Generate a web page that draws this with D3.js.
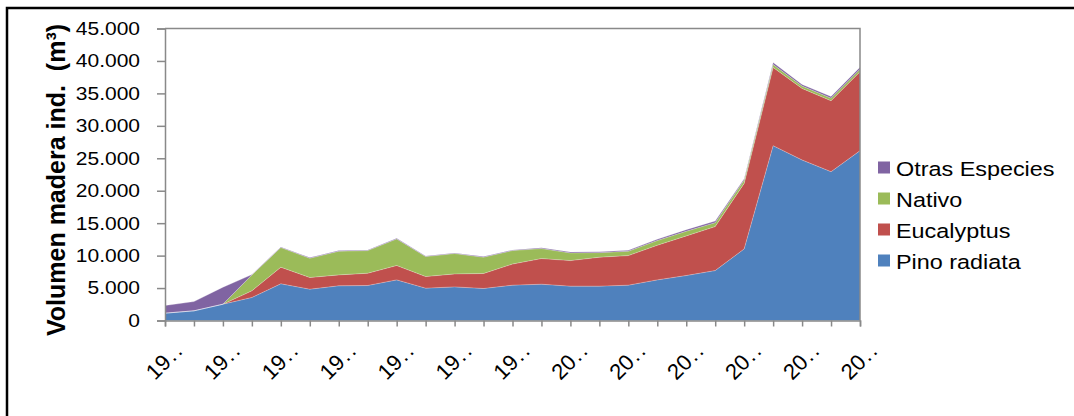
<!DOCTYPE html>
<html>
<head>
<meta charset="utf-8">
<script src="https://cdn.jsdelivr.net/npm/d3@7/dist/d3.min.js"></script>
<style>
  html, body { margin: 0; padding: 0; background: #fff; }
  svg { display: block; }
  text { font-family: "Liberation Sans", Arial, sans-serif; fill: #000; }
</style>
</head>
<body>
<svg id="chart" width="1074" height="416"></svg>
<script>
// Annual industrial wood volume by species group (m³)
const years = d3.range(1986, 2011).map(String);
const pinoRadiata = [1130, 1490, 2510, 3540, 5650, 4820, 5340, 5390, 6260, 4980, 5180, 4930, 5440, 5590, 5290, 5290, 5440, 6260, 6930, 7690, 11030, 26930, 24730, 22930, 26160];
const eucalyptus  = [0, 0, 0, 1030, 2560, 1800, 1690, 1890, 2210, 1790, 2000, 2310, 3260, 3950, 3940, 4460, 4560, 5330, 6100, 6780, 10100, 12060, 11030, 10930, 12160];
const nativo      = [0, 0, 0, 2460, 3030, 2970, 3640, 3490, 4100, 3080, 3130, 2510, 2080, 1540, 1180, 710, 670, 720, 720, 610, 520, 460, 360, 410, 410];
const otras       = [1180, 1430, 2620, 40, 100, 100, 100, 100, 100, 100, 100, 100, 100, 150, 150, 150, 150, 200, 250, 260, 200, 310, 260, 260, 310];

const seriesNames = ["Pino radiata", "Eucalyptus", "Nativo", "Otras Especies"];
const seriesColors = ["#4F81BD", "#C0504D", "#9BBB59", "#8064A2"];
const yTicks = [0, 5000, 10000, 15000, 20000, 25000, 30000, 35000, 40000, 45000];
const yTitle = "Volumen madera ind.  (m³)";

const rows = years.map((yr, i) => ({
  year: yr,
  "Pino radiata": pinoRadiata[i],
  "Eucalyptus": eucalyptus[i],
  "Nativo": nativo[i],
  "Otras Especies": otras[i]
}));

const svg = d3.select("#chart");
const SX = 1.2; // horizontal text stretch

// outer frame
svg.append("rect")
  .attr("x", 7).attr("y", 8).attr("width", 1100).attr("height", 440)
  .attr("fill", "none").attr("stroke", "#000").attr("stroke-width", 2.5);

const plotLeft = 165, plotRight = 860, plotTop = 28.5, plotBottom = 320.5;
const x = d3.scalePoint().domain(years).range([plotLeft, plotRight]);
const y = d3.scaleLinear().domain([0, 45000]).range([plotBottom, plotTop]);

const stack = d3.stack().keys(seriesNames);
const layers = stack(rows);

const area = d3.area()
  .x(d => x(d.data.year))
  .y0(d => y(d[0]))
  .y1(d => y(d[1]));

const color = d3.scaleOrdinal().domain(seriesNames).range(seriesColors);

svg.append("g").selectAll("path")
  .data(layers)
  .join("path")
  .attr("d", area)
  .attr("fill", d => color(d.key));

// light seams along each layer's upper edge
const edge = d3.line().x(d => x(d.data.year)).y(d => y(d[1]));
svg.append("g").selectAll("path")
  .data(layers)
  .join("path")
  .attr("d", edge)
  .attr("fill", "none")
  .attr("stroke", "#fff")
  .attr("stroke-opacity", 0.35)
  .attr("stroke-width", 0.8);

// plot area border (top and right)
svg.append("path")
  .attr("d", `M${plotLeft},${plotTop}H${plotRight}V${plotBottom}`)
  .attr("fill", "none").attr("stroke", "#898989").attr("stroke-width", 1.5);

const fmt = d3.formatLocale({ decimal: ",", thousands: ".", grouping: [3], currency: ["", ""] }).format(",");

// y axis
const yAxis = svg.append("g")
  .attr("transform", `translate(${plotLeft},0)`)
  .call(d3.axisLeft(y).tickValues(yTicks).tickSize(8).tickFormat(fmt));
yAxis.select(".domain").attr("stroke", "#898989").attr("stroke-width", 1.5);
yAxis.selectAll(".tick line").attr("stroke", "#898989").attr("stroke-width", 1.5);
yAxis.selectAll(".tick text")
  .attr("x", null).attr("dy", null)
  .attr("transform", `translate(-25,0) scale(${SX},1)`)
  .attr("dominant-baseline", "central")
  .attr("text-anchor", "end")
  .style("font-size", "17.5px")
  .attr("fill", "#000");

// x axis: every other year, truncated to its century digits
const xAxis = svg.append("g")
  .attr("transform", `translate(0,${plotBottom})`)
  .call(d3.axisBottom(x).tickSize(6).tickFormat((d, i) => i % 2 === 0 ? d.slice(0, 2) : ""));
xAxis.select(".domain").attr("stroke", "#898989").attr("stroke-width", 1.5);
xAxis.selectAll(".tick line").attr("stroke", "#898989").attr("stroke-width", 1.5);
xAxis.selectAll(".tick text")
  .attr("y", null).attr("dy", null)
  .attr("transform", "translate(18,32) rotate(-45)")
  .attr("text-anchor", "end")
  .style("font-size", "22px")
  .attr("fill", "#000")
  .each(function () {
    const t = d3.select(this);
    const s = t.text();
    if (!s) return;
    t.text(s);
    t.append("tspan").attr("dx", 1.5).text(".");
    t.append("tspan").attr("dx", 2).text(".");
  });

// y axis title
svg.append("text")
  .attr("transform", "translate(65,180) rotate(-90)")
  .attr("text-anchor", "middle")
  .style("font-size", "25px")
  .style("font-weight", "bold")
  .style("white-space", "pre")
  .text(yTitle);

// legend
const legendOrder = seriesNames.slice().reverse();
const leg = svg.append("g").selectAll("g")
  .data(legendOrder)
  .join("g")
  .attr("transform", (d, i) => `translate(878,${176 + i * 31})`);
leg.append("rect")
  .attr("x", 0).attr("y", -14.5).attr("width", 12).attr("height", 12)
  .attr("fill", d => color(d));
leg.append("text")
  .attr("transform", `translate(18,0) scale(${SX},1)`)
  .style("font-size", "19.5px")
  .text(d => d);
</script>
</body>
</html>
